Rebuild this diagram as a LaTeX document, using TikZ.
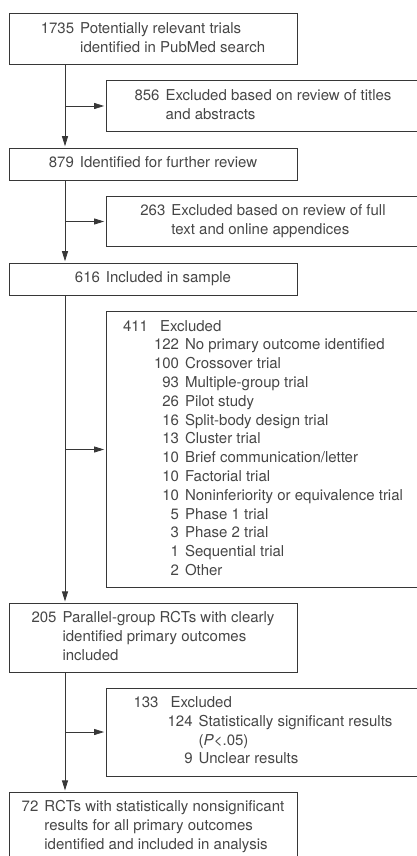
\documentclass[tikz,border=0pt]{standalone}
\usepackage{fontspec}
\setmainfont{TeX Gyre Heros}
\usetikzlibrary{arrows.meta, positioning}
\definecolor{FlowGray}{RGB}{55, 55, 55}
\definecolor{FlowText}{RGB}{70, 70, 70}
\newcommand{\flowlist}[1]{\begin{tabular}{@{}r@{\hspace{6pt}}l@{}}#1\end{tabular}}
\newcommand{\flowsub}[1]{\begin{tabular}{@{}r@{\hspace{6pt}}r@{\hspace{6pt}}l@{}}#1\end{tabular}}

\begin{document}
\begin{tikzpicture}[x=1pt, y=-1pt,
    box/.style={draw=FlowGray, line width=0.8pt, text=FlowText, inner xsep=0pt, inner ysep=6.5pt,
                font=\fontsize{15}{18.8}\selectfont},
    mainbox/.style={box, minimum width=288pt},
    sidebox/.style={box, minimum width=314pt},
    arr/.style={draw=FlowGray, line width=0.8pt, shorten >=1.5pt, -{Triangle[length=10pt, width=6pt]}}]
    \useasboundingbox (0,0) rectangle (417,856);
    \clip (0,0) rectangle (417,856);
    \coordinate (spine) at (65,0);
    % main column
    \node[mainbox] (found) at (153,39) {\flowlist{1735 & Potentially relevant trials\\ & identified in PubMed search}};
    \node[mainbox] (review) at (153,164) {\flowlist{879 & Identified for further review}};
    \node[mainbox] (sample) at (153,279) {\flowlist{616 & Included in sample}};
    \node[mainbox] (parallel) at (153,638) {\flowlist{205 & Parallel-group RCTs with clearly\\ & identified primary outcomes\\ & included}};
    \node[mainbox] (analysed) at (153,827) {\flowlist{72 & RCTs with statistically nonsignificant\\ & results for all primary outcomes\\ & identified and included in analysis}};
    % exclusions
    \node[sidebox] (exclTitles) at (263,106) {\flowlist{856 & Excluded based on review of titles\\ & and abstracts}};
    \node[sidebox] (exclFull) at (263,221.5) {\flowlist{263 & Excluded based on review of full\\ & text and online appendices}};
    \node[sidebox] (exclDesign) at (263,449.5) {\flowsub{411 & \multicolumn{2}{l}{Excluded}\\
        & 122 & No primary outcome identified\\
        & 100 & Crossover trial\\
        & 93 & Multiple-group trial\\
        & 26 & Pilot study\\
        & 16 & Split-body design trial\\
        & 13 & Cluster trial\\
        & 10 & Brief communication/letter\\
        & 10 & Factorial trial\\
        & 10 & Noninferiority or equivalence trial\\
        & 5 & Phase 1 trial\\
        & 3 & Phase 2 trial\\
        & 1 & Sequential trial\\
        & 2 & Other}};
    \node[sidebox] (exclSig) at (263,732) {\flowsub{133 & \multicolumn{2}{l}{Excluded}\\
        & \hspace{3pt}124 & Statistically significant results\\
        & & (\textit{P}<.05)\\
        & 9 & Unclear results}};
    % connectors
    \draw[arr] (found.south -| spine) -- (review.north -| spine);
    \draw[arr] (review.south -| spine) -- (sample.north -| spine);
    \draw[arr] (sample.south -| spine) -- (parallel.north -| spine);
    \draw[arr] (parallel.south -| spine) -- (analysed.north -| spine);
    \draw[arr] (spine |- exclTitles.west) -- (exclTitles.west);
    \draw[arr] (spine |- exclFull.west) -- (exclFull.west);
    \draw[arr] (spine |- exclDesign.west) -- (exclDesign.west);
    \draw[arr] (spine |- exclSig.west) -- (exclSig.west);
\end{tikzpicture}
\end{document}
